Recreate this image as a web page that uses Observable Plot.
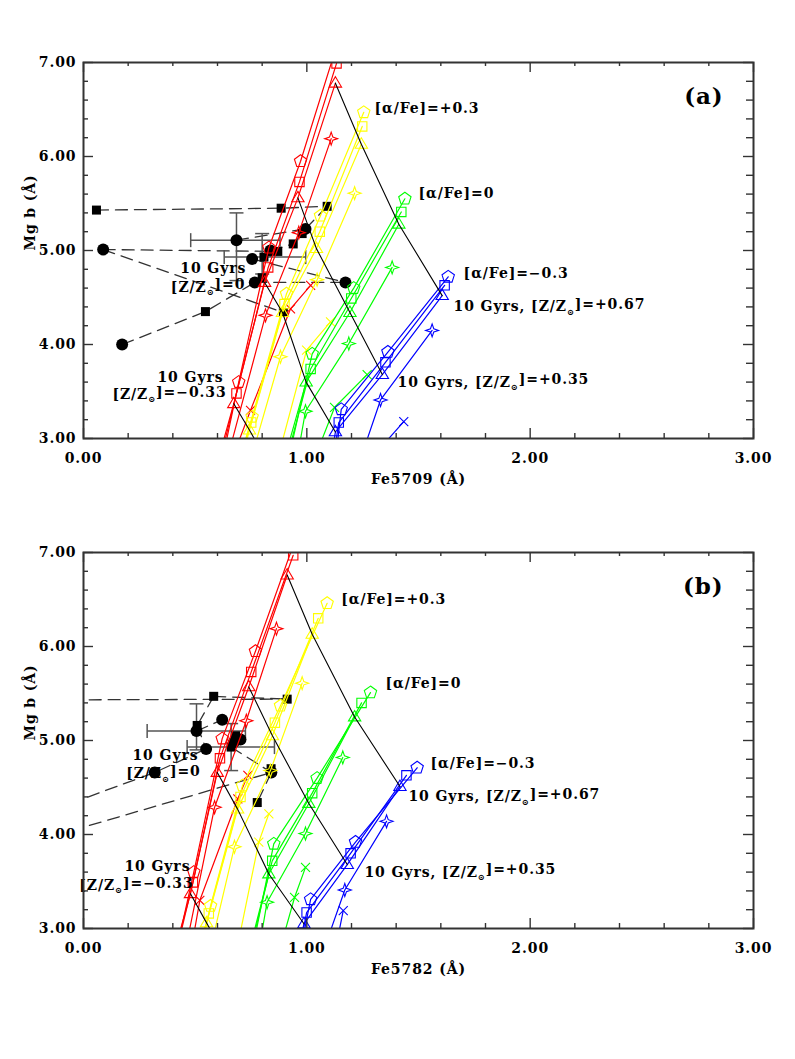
<!DOCTYPE html>
<html><head><meta charset="utf-8">
<script src="https://cdn.jsdelivr.net/npm/d3@7"></script>
<script src="https://cdn.jsdelivr.net/npm/@observablehq/plot@0.6"></script>
<style>
body{margin:0;background:#fff;}
#chart svg{display:block;}
#chart svg text{letter-spacing:0.9px;}
</style>
</head><body><div id="chart"></div>
<script>
// ---------- axes ----------
const xMajor = [0, 1, 2, 3];
const xMinor = [0.2,0.4,0.6,0.8,1.2,1.4,1.6,1.8,2.2,2.4,2.6,2.8];
const yMajor = [3, 4, 5, 6, 7];
const yMinor = [3.2,3.4,3.6,3.8,4.2,4.4,4.6,4.8,5.2,5.4,5.6,5.8,6.2,6.4,6.6,6.8];

// ---------- model tracks : [alpha/Fe] series colours ----------
const alphaSeries = ["high", "+0.3", "0", "-0.3"];
const alphaColors = ["#ff0000", "#ffff00", "#00ff00", "#0000ff"];
const trackKeys = ["pent", "sq", "tri", "star", "cross"];

// Panel (a): Fe5709 vs Mg b  — points [Fe, Mgb]
const A_red = {
  pent:  [[0.62,2.75],[0.695,3.60],[0.830,5.03],[0.972,5.95],[1.13,7.15]],
  sq:    [[0.61,2.75],[0.685,3.48],[0.827,4.82],[0.967,5.73],[1.133,6.99]],
  tri:   [[0.60,2.75],[0.673,3.37],[0.811,4.66],[0.960,5.56],[1.128,6.78]],
  star:  [[0.64,2.75],[0.815,4.31],[0.964,5.19],[1.109,6.19]],
  cross: [[0.66,2.75],[0.748,3.30],[0.927,4.38],[1.017,4.63]]
};
const A_yellow = {
  pent:  [[0.69,2.7],[0.755,3.23],[0.909,4.54],[1.061,5.37],[1.255,6.47]],
  sq:    [[0.69,2.7],[0.751,3.17],[0.900,4.43],[1.058,5.20],[1.248,6.32]],
  tri:   [[0.70,2.7],[0.743,3.09],[0.891,4.34],[1.043,5.02],[1.244,6.13]],
  star:  [[0.74,2.7],[0.882,3.87],[1.046,4.69],[1.214,5.61]],
  cross: [[0.86,2.7],[0.999,3.94],[1.106,4.24]]
};
const A_green = {
  pent:  [[0.91,2.7],[1.024,3.90],[1.210,4.60],[1.439,5.55]],
  sq:    [[0.90,2.7],[1.017,3.74],[1.199,4.49],[1.423,5.41]],
  tri:   [[0.89,2.7],[0.997,3.60],[1.193,4.34],[1.412,5.28]],
  star:  [[0.95,2.7],[0.994,3.29],[1.188,4.01],[1.382,4.82]],
  cross: [[1.02,2.7],[1.124,3.33],[1.270,3.68]]
};
const A_blue = {
  pent:  [[1.13,2.8],[1.154,3.31],[1.363,3.92],[1.633,4.72]],
  sq:    [[1.12,2.8],[1.143,3.17],[1.352,3.81],[1.617,4.63]],
  tri:   [[1.11,2.8],[1.128,3.07],[1.338,3.68],[1.606,4.52]],
  star:  [[1.25,2.85],[1.330,3.41],[1.561,4.15]],
  cross: [[1.33,2.9],[1.434,3.18]]
};
// 10 Gyr iso-metallicity lines, panel (a)
const A_iso = [
  [[1.128,6.78],[1.244,6.13],[1.412,5.28],[1.606,4.52]],
  [[0.960,5.56],[1.043,5.02],[1.193,4.34],[1.338,3.68]],
  [[0.811,4.66],[0.891,4.34],[0.997,3.60],[1.128,3.07]],
  [[0.673,3.37],[0.743,3.09],[0.80,2.85]]
];
// observed galaxies, panel (a)
const A_circles = [[0.088,5.01],[0.173,4.00],[0.685,5.11],[0.755,4.91],[0.767,4.66],[0.837,5.00],[0.994,5.23],[1.173,4.66]];
const A_squares = [[0.058,5.43],[0.885,5.45],[1.091,5.47],[0.870,4.99],[0.546,4.35],[0.808,4.93],[0.800,4.71],[0.939,5.07],[0.979,5.18],[0.895,4.34]];
const A_dashed = [
  [[0.058,5.43],[0.885,5.45],[1.091,5.47]],
  [[0.088,5.01],[0.870,4.99]],
  [[0.088,5.01],[0.895,4.34]],
  [[0.173,4.00],[0.546,4.35],[0.767,4.66]],
  [[0.767,4.66],[1.173,4.66]],
  [[0.755,4.91],[1.173,4.66]],
  [[0.685,5.11],[0.994,5.23]],
  [[0.837,5.00],[0.939,5.07],[0.979,5.18]],
  [[0.994,5.23],[1.091,5.47]]
];
const A_errors = [
  {x:0.685, y:5.11, xlo:0.48, xhi:0.88, ylo:4.68, yhi:5.40},
  {x:0.800, y:4.93, xlo:0.63, xhi:0.995, ylo:4.75, yhi:5.18}
];

// Panel (b): Fe5782 vs Mg b
const B_red = {
  pent:  [[0.41,2.7],[0.494,3.60],[0.621,5.02],[0.770,5.95],[0.95,7.15]],
  sq:    [[0.41,2.7],[0.490,3.49],[0.611,4.81],[0.751,5.73],[0.939,6.97]],
  tri:   [[0.40,2.7],[0.479,3.37],[0.599,4.66],[0.740,5.57],[0.912,6.76]],
  star:  [[0.45,2.7],[0.587,4.29],[0.729,5.21],[0.864,6.19]],
  cross: [[0.48,2.75],[0.521,3.30],[0.691,4.38],[0.736,4.63]]
};
const B_yellow = {
  pent:  [[0.52,2.7],[0.569,3.24],[0.712,4.52],[0.882,5.37],[1.091,6.46]],
  sq:    [[0.51,2.7],[0.561,3.16],[0.703,4.40],[0.857,5.19],[1.051,6.30]],
  tri:   [[0.50,2.7],[0.551,3.06],[0.690,4.27],[0.846,5.05],[1.024,6.13]],
  star:  [[0.56,2.7],[0.676,3.87],[0.837,4.68],[0.979,5.61]],
  cross: [[0.68,2.7],[0.785,3.92],[0.830,4.22]]
};
const B_green = {
  pent:  [[0.75,2.7],[0.852,3.90],[1.046,4.60],[1.285,5.51]],
  sq:    [[0.74,2.7],[0.845,3.72],[1.024,4.44],[1.245,5.40]],
  tri:   [[0.735,2.7],[0.830,3.58],[1.009,4.33],[1.214,5.25]],
  star:  [[0.78,2.7],[0.822,3.28],[0.994,4.01],[1.161,4.82]],
  cross: [[0.87,2.7],[0.945,3.33],[0.994,3.65]]
};
const B_blue = {
  pent:  [[0.97,2.75],[1.017,3.31],[1.218,3.92],[1.494,4.71]],
  sq:    [[0.965,2.75],[0.999,3.17],[1.196,3.80],[1.446,4.63]],
  tri:   [[0.96,2.75],[0.987,3.05],[1.181,3.68],[1.417,4.51]],
  star:  [[1.08,2.8],[1.170,3.41],[1.357,4.14]],
  cross: [[1.13,2.8],[1.163,3.19]]
};
const B_iso = [
  [[0.912,6.76],[1.024,6.13],[1.214,5.25],[1.417,4.51]],
  [[0.740,5.57],[0.846,5.05],[1.009,4.33],[1.181,3.68]],
  [[0.599,4.66],[0.690,4.27],[0.830,3.58],[0.987,3.05]],
  [[0.479,3.37],[0.551,3.06],[0.60,2.85]]
];
const B_circles = [[0.506,5.10],[0.621,5.22],[0.549,4.91],[0.703,5.01],[0.673,4.98],[0.319,4.66],[0.841,4.66]];
const B_squares = [[-0.40,5.43],[0.583,5.47],[0.912,5.44],[0.509,5.16],[0.681,5.05],[0.661,4.93],[0.778,4.34],[0.84,4.70]];
const B_dashed = [
  [[-0.40,5.43],[0.912,5.44]],
  [[0.583,5.47],[0.912,5.44]],
  [[0.583,5.47],[0.509,5.16]],
  [[-0.30,4.12],[0.319,4.66],[0.549,4.91]],
  [[-0.30,3.87],[0.841,4.66]],
  [[0.509,5.16],[0.549,4.91]],
  [[0.506,5.10],[0.621,5.22]],
  [[0.661,4.93],[0.841,4.66]],
  [[0.841,4.66],[0.778,4.34]]
];
const B_errors = [
  {x:0.506, y:5.10, xlo:0.285, xhi:0.725, ylo:4.90, yhi:5.39},
  {x:0.661, y:4.93, xlo:0.464, xhi:0.855, ylo:4.68, yhi:5.18}
];

// ---------- annotations (left-anchored and centred) ----------
const A_notesLeft = [
  {x:1.303, y:6.51, t:"[α/Fe]=+0.3"},
  {x:1.500, y:5.61, t:"[α/Fe]=0"},
  {x:1.702, y:4.76, t:"[α/Fe]=−0.3"},
  {x:1.657, y:4.40, t:"10 Gyrs, [Z/Z⊙]=+0.67"},
  {x:1.406, y:3.60, t:"10 Gyrs, [Z/Z⊙]=+0.35"}
];
const A_notesMid = [
  {x:0.581, y:4.81, t:"10 Gyrs"},
  {x:0.558, y:4.61, t:"[Z/Z⊙]=0"},
  {x:0.479, y:3.65, t:"10 Gyrs"},
  {x:0.385, y:3.47, t:"[Z/Z⊙]=−0.33"}
];
const B_notesLeft = [
  {x:1.154, y:6.50, t:"[α/Fe]=+0.3"},
  {x:1.352, y:5.61, t:"[α/Fe]=0"},
  {x:1.554, y:4.76, t:"[α/Fe]=−0.3"},
  {x:1.455, y:4.40, t:"10 Gyrs, [Z/Z⊙]=+0.67"},
  {x:1.258, y:3.60, t:"10 Gyrs, [Z/Z⊙]=+0.35"}
];
const B_notesMid = [
  {x:0.367, y:4.835, t:"10 Gyrs"},
  {x:0.358, y:4.645, t:"[Z/Z⊙]=0"},
  {x:0.331, y:3.66, t:"10 Gyrs"},
  {x:0.237, y:3.46, t:"[Z/Z⊙]=−0.33"}
];

// ---------- symbols ----------
const R = s => Math.sqrt(s / Math.PI);
const SYM = {
  pent: {draw(c, s){ const r=R(s); for(let i=0;i<5;i++){const a=-Math.PI/2+i*2*Math.PI/5; i?c.lineTo(r*Math.cos(a),r*Math.sin(a)):c.moveTo(r*Math.cos(a),r*Math.sin(a));} c.closePath(); }},
  sq: {draw(c, s){ const r=R(s); c.moveTo(-r,-r); c.lineTo(r,-r); c.lineTo(r,r); c.lineTo(-r,r); c.closePath(); }},
  tri: {draw(c, s){ const r=R(s); c.moveTo(0,-r); c.lineTo(r*0.95,r*0.6); c.lineTo(-r*0.95,r*0.6); c.closePath(); }},
  star: {draw(c, s){ const r=R(s); for(let i=0;i<8;i++){const a=-Math.PI/2+i*Math.PI/4; const rr=i%2? r*0.36 : r; i?c.lineTo(rr*Math.cos(a),rr*Math.sin(a)):c.moveTo(rr*Math.cos(a),rr*Math.sin(a));} c.closePath(); }},
  cross: {draw(c, s){ const r=R(s); c.moveTo(-r,-r); c.lineTo(r,r); c.moveTo(r,-r); c.lineTo(-r,r); }},
  vbar: {draw(c, s){ const r=R(s); c.moveTo(0,-r); c.lineTo(0,r); }},
  hbar: {draw(c, s){ const r=R(s); c.moveTo(-r,0); c.lineTo(r,0); }}
};
const SYM_R = {pent:6.5, sq:4.7, tri:6.5, star:6.5, cross:4.5};

const FONT = "DejaVu Serif";
const X = d => d[0], Y = d => d[1];

function panel(models, iso, circles, squares, dashed, errors, notesLeft, notesMid, xLabel, tag) {
  const marks = [];
  const dashRows = dashed.flatMap((seg, i) => seg.map(p => ({x:p[0], y:p[1], g:i})));
  marks.push(Plot.line(dashRows, {x:"x", y:"y", z:"g", stroke:"#333", strokeWidth:1.3, strokeDasharray:"12,7", clip:true}));
  const eb = {stroke:"#555", strokeWidth:1.5, clip:true};
  marks.push(Plot.link(errors, {x1:"xlo", x2:"xhi", y1:"y", y2:"y", ...eb}));
  marks.push(Plot.link(errors, {x1:"x", x2:"x", y1:"ylo", y2:"yhi", ...eb}));
  marks.push(Plot.dot(errors, {x:"xlo", y:"y", symbol:SYM.vbar, r:7, ...eb}));
  marks.push(Plot.dot(errors, {x:"xhi", y:"y", symbol:SYM.vbar, r:7, ...eb}));
  marks.push(Plot.dot(errors, {x:"x", y:"ylo", symbol:SYM.hbar, r:7, ...eb}));
  marks.push(Plot.dot(errors, {x:"x", y:"yhi", symbol:SYM.hbar, r:7, ...eb}));
  marks.push(Plot.dot(squares, {x:X, y:Y, symbol:SYM.sq, r:4.5, fill:"#000", stroke:"none", clip:true}));
  marks.push(Plot.dot(circles, {x:X, y:Y, symbol:"circle", r:6, fill:"#000", stroke:"none", clip:true}));
  models.forEach((m, ci) => {
    const col = alphaColors[ci];
    trackKeys.forEach(k => {
      marks.push(Plot.line(m[k], {x:X, y:Y, stroke:col, strokeWidth:1.2, clip:true}));
      marks.push(Plot.dot(m[k], {x:X, y:Y, symbol:SYM[k], r:SYM_R[k], stroke:col, fill:"none", strokeWidth:1.1, clip:true}));
    });
  });
  const isoRows = iso.flatMap((seg, i) => seg.map(p => ({x:p[0], y:p[1], g:i})));
  marks.push(Plot.line(isoRows, {x:"x", y:"y", z:"g", stroke:"#000", strokeWidth:1.1, clip:true}));
  marks.push(Plot.text(notesLeft, {x:"x", y:"y", text:"t", textAnchor:"start", fontSize:14, fill:"#000"}));
  marks.push(Plot.text(notesMid, {x:"x", y:"y", text:"t", textAnchor:"middle", fontSize:14, fill:"#000"}));
  marks.push(Plot.text([tag], {frameAnchor:"top-right", dx:-30, dy:34, text:d=>d, fontSize:23, fill:"#000", lineAnchor:"middle"}));
  const tk = {stroke:"#333", strokeWidth:1.4};
  marks.push(Plot.tickX(xMajor, {x:d=>d, insetTop:366, ...tk}));
  marks.push(Plot.tickX(xMinor, {x:d=>d, insetTop:371, ...tk}));
  marks.push(Plot.tickX(xMajor, {x:d=>d, insetBottom:366, ...tk}));
  marks.push(Plot.tickX(xMinor, {x:d=>d, insetBottom:372, ...tk}));
  marks.push(Plot.tickY(yMajor, {y:d=>d, insetRight:660, ...tk}));
  marks.push(Plot.tickY(yMinor, {y:d=>d, insetRight:665, ...tk}));
  marks.push(Plot.tickY(yMajor, {y:d=>d, insetLeft:660, ...tk}));
  marks.push(Plot.tickY(yMinor, {y:d=>d, insetLeft:663, ...tk}));
  marks.push(Plot.frame({stroke:"#333", strokeWidth:2}));
  marks.push(Plot.axisX(xMajor, {anchor:"bottom", tickSize:0, tickPadding:15, tickFormat:d3.format(".2f"), label:null, fontSize:14, stroke:"none"}));
  marks.push(Plot.axisY(yMajor, {anchor:"left", tickSize:0, tickPadding:7, tickFormat:d3.format(".2f"), label:null, fontSize:14, stroke:"none"}));
  marks.push(Plot.text([xLabel], {frameAnchor:"bottom", dy:41, text:d=>d, fontSize:14, lineAnchor:"middle"}));
  marks.push(Plot.text(["Mg b (Å)"], {frameAnchor:"left", dx:-53, rotate:-90, text:d=>d, fontSize:14, lineAnchor:"middle"}));

  return Plot.plot({
    width: 795, height: 490,
    marginLeft: 83, marginRight: 42, marginTop: 62, marginBottom: 52,
    x: {domain:[0,3]}, y: {domain:[3,7]},
    style: {fontFamily: FONT, fontWeight:"bold", background:"#fff", color:"#000"},
    marks
  });
}

function sunSub(svg) {
  d3.select(svg).selectAll("text").each(function() {
    const s = this.textContent, i = s.indexOf("⊙");
    if (i < 0) return;
    const el = d3.select(this);
    el.text(null);
    el.append("tspan").text(s.slice(0, i));
    el.append("tspan").attr("font-size", "0.6em").attr("dy", "0.4em").text("⊙");
    el.append("tspan").attr("dy", "-0.4em").text(s.slice(i + 1));
  });
}

const chart = document.getElementById("chart");
const pa = panel([A_red, A_yellow, A_green, A_blue], A_iso, A_circles, A_squares, A_dashed, A_errors, A_notesLeft, A_notesMid, "Fe5709 (Å)", "(a)");
const pb = panel([B_red, B_yellow, B_green, B_blue], B_iso, B_circles, B_squares, B_dashed, B_errors, B_notesLeft, B_notesMid, "Fe5782 (Å)", "(b)");
sunSub(pa); sunSub(pb);
chart.appendChild(pa);
chart.appendChild(pb);
</script>
</body></html>
